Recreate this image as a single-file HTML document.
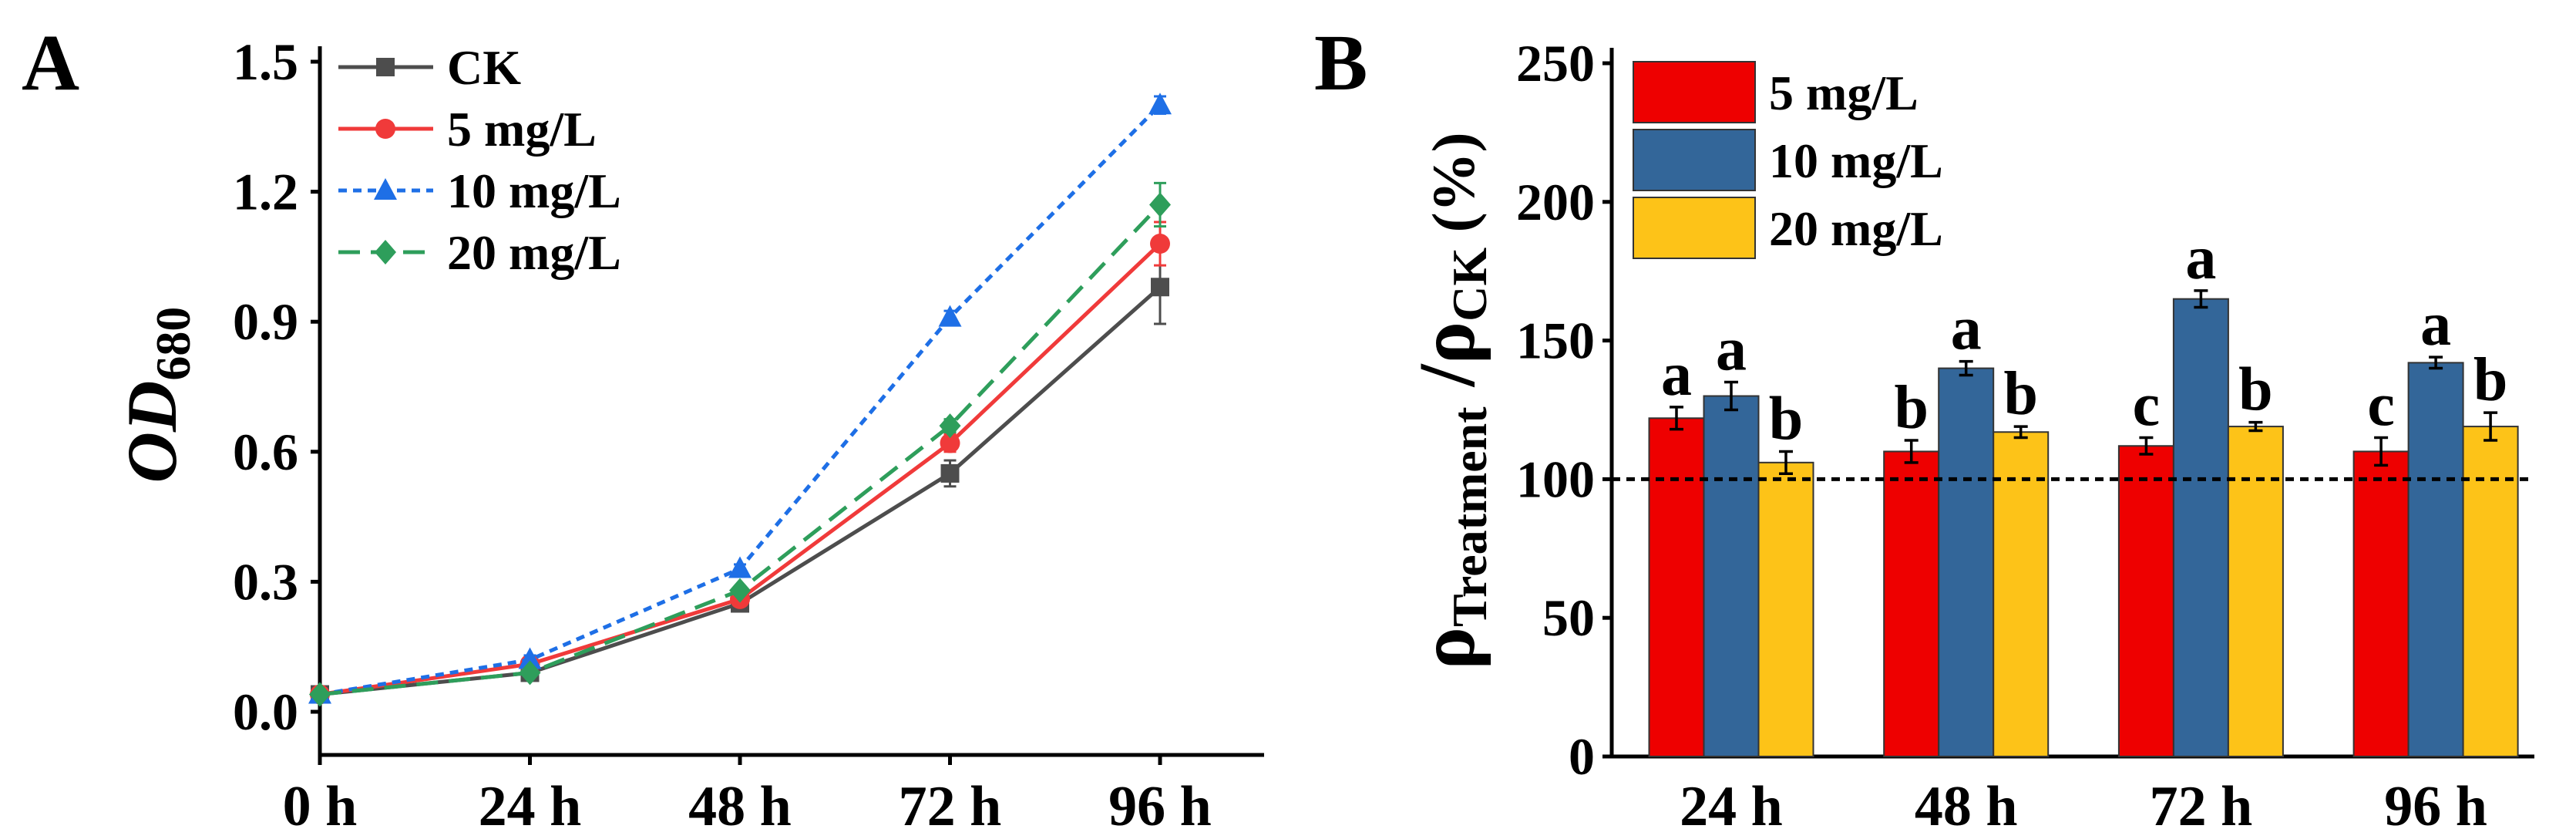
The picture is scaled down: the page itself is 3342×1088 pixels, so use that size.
<!DOCTYPE html>
<html><head><meta charset="utf-8"><style>
html,body{margin:0;padding:0;background:#fff;}
svg{display:block;font-family:"Liberation Serif",serif;font-weight:bold;}
</style></head><body>
<svg id="fig" width="3342" height="1088" viewBox="0 0 3342 1088" xmlns="http://www.w3.org/2000/svg">
<text x="28" y="116" font-size="104">A</text>
<text x="1705" y="116" font-size="104">B</text>
<g id="chartA"></g>
<g id="chartB"></g>
</svg>
<script>
const NS="http://www.w3.org/2000/svg";
// ---- Panel A data ----
const timeLabels=["0 h","24 h","48 h","72 h","96 h"];
const yTicksA=[0.0,0.3,0.6,0.9,1.2,1.5];
const ckValues=[0.04,0.09,0.25,0.55,0.98];
const ckErr=[0.005,0.01,0.01,0.03,0.085];
const mg5Values=[0.04,0.11,0.26,0.62,1.08];
const mg5Err=[0.005,0.01,0.01,0.02,0.05];
const mg10Values=[0.04,0.12,0.33,0.91,1.40];
const mg10Err=[0.005,0.01,0.01,0.015,0.02];
const mg20Values=[0.04,0.09,0.28,0.66,1.17];
const mg20Err=[0.005,0.01,0.01,0.015,0.05];
const seriesNamesA=["CK","5 mg/L","10 mg/L","20 mg/L"];
// ---- Panel B data ----
const groupsB=["24 h","48 h","72 h","96 h"];
const yTicksB=[0,50,100,150,200,250];
const b5Values=[122,110,112,110];
const b5Err=[4,4,3,5];
const b10Values=[130,140,165,142];
const b10Err=[5,2.5,3,2];
const b20Values=[106,117,119,119];
const b20Err=[4,2,1.5,5];
const b5Letters=["a","b","c","c"];
const b10Letters=["a","a","a","a"];
const b20Letters=["b","b","b","b"];
const seriesNamesB=["5 mg/L","10 mg/L","20 mg/L"];

function el(tag,attrs,parent,text){const e=document.createElementNS(NS,tag);for(const k in attrs)e.setAttribute(k,attrs[k]);if(text!==undefined)e.textContent=text;parent.appendChild(e);return e;}

// ===== Panel A =====
const gA=document.getElementById('chartA');
const xA=i=>415+i*272.5;
const yA=v=>923-(v/0.3)*168.6;
let ax=el('line',{x1:415,y1:60,x2:415,y2:979,stroke:'#000','stroke-width':5},gA);


ax=el('line',{x1:413,y1:979,x2:1640,y2:979,stroke:'#000','stroke-width':5},gA);


yTicksA.forEach(v=>{
  el('line',{x1:403,y1:yA(v),x2:415,y2:yA(v),stroke:'#000','stroke-width':5},gA);
  const t=el('text',{x:387,y:yA(v)+23,'font-size':68,'text-anchor':'end'},gA,v.toFixed(1));
  
  
});
timeLabels.forEach((l,i)=>{
  el('line',{x1:xA(i),y1:979,x2:xA(i),y2:992,stroke:'#000','stroke-width':5},gA);
  const t=el('text',{x:xA(i),y:1070,'font-size':74,'text-anchor':'middle'},gA,l);
  
  
});
const yt=el('text',{transform:'translate(228,512) rotate(-90)','font-size':92,'text-anchor':'middle','font-style':'italic'},gA);


el('tspan',{},yt,'OD');
el('tspan',{'font-size':64,'font-style':'normal',dy:18},yt,'680');

const seriesA=[
 {v:ckValues,e:ckErr,c:'#4d4d4d',d:'',m:'sq'},
 {v:mg5Values,e:mg5Err,c:'#f03a3a',d:'',m:'ci'},
 {v:mg10Values,e:mg10Err,c:'#1e6fe6',d:'11 8',m:'tr'},
 {v:mg20Values,e:mg20Err,c:'#2e9e5b',d:'28 14',m:'di'}];
function marker(type,x,y,c,parent){
  if(type==='sq')return el('rect',{x:x-12,y:y-12,width:24,height:24,fill:c},parent);
  if(type==='ci')return el('circle',{cx:x,cy:y,r:13,fill:c},parent);
  if(type==='tr')return el('polygon',{points:`${x},${y-16} ${x+15},${y+12} ${x-15},${y+12}`,fill:c},parent);
  return el('polygon',{points:`${x},${y-16} ${x+14},${y} ${x},${y+16} ${x-14},${y}`,fill:c},parent);
}
seriesA.forEach((s,si)=>{
  const g=el('g',{},gA);
  
  
  const pts=s.v.map((v,i)=>xA(i)+','+yA(v)).join(' ');
  const pl=el('polyline',{points:pts,fill:'none',stroke:s.c,'stroke-width':5,'stroke-dasharray':s.d},g);
  
  
  s.v.forEach((v,i)=>{
    const x=xA(i);
    el('line',{x1:x,y1:yA(v-s.e[i]),x2:x,y2:yA(v+s.e[i]),stroke:s.c,'stroke-width':3},g);
    el('line',{x1:x-8,y1:yA(v-s.e[i]),x2:x+8,y2:yA(v-s.e[i]),stroke:s.c,'stroke-width':3},g);
    el('line',{x1:x-8,y1:yA(v+s.e[i]),x2:x+8,y2:yA(v+s.e[i]),stroke:s.c,'stroke-width':3},g);
    const m=marker(s.m,x,yA(v),s.c,g);
    
    
  });
  const ly=87+si*80;
  const lg=el('g',{},gA);
  
  
  el('line',{x1:439,y1:ly,x2:562,y2:ly,stroke:s.c,'stroke-width':5,'stroke-dasharray':s.d},lg);
  marker(s.m,500,ly,s.c,lg);
  el('text',{x:580,y:ly+22,'font-size':64},lg,seriesNamesA[si]);
});

// ===== Panel B =====
const gB=document.getElementById('chartB');
const x0B=2091, yB=v=>981-v*(899/250);
const gx=i=>2246+i*304.7;
const bw=71;
ax=el('line',{x1:x0B,y1:62,x2:x0B,y2:981,stroke:'#000','stroke-width':5},gB);


ax=el('line',{x1:x0B-2,y1:981,x2:3288,y2:981,stroke:'#000','stroke-width':5},gB);


yTicksB.forEach(v=>{
  el('line',{x1:x0B-12,y1:yB(v),x2:x0B,y2:yB(v),stroke:'#000','stroke-width':5},gB);
  const t=el('text',{x:x0B-22,y:yB(v)+23,'font-size':68,'text-anchor':'end'},gB,String(v));
  
  
});
groupsB.forEach((l,i)=>{
  const t=el('text',{x:gx(i),y:1070,'font-size':74,'text-anchor':'middle'},gB,l);
  
  
});
const yt2=el('text',{transform:'translate(1912,520) rotate(-90)','font-size':104,'text-anchor':'middle'},gB);


el('tspan',{},yt2,'ρ');
el('tspan',{'font-size':64,dy:16},yt2,'Treatment');
el('tspan',{dy:-16},yt2,' /ρ');
el('tspan',{'font-size':64,dy:16},yt2,'CK');
el('tspan',{'font-size':78,dy:-16},yt2,' (%)');

const seriesB=[
 {v:b5Values,e:b5Err,L:b5Letters,c:'#ee0000'},
 {v:b10Values,e:b10Err,L:b10Letters,c:'#336699'},
 {v:b20Values,e:b20Err,L:b20Letters,c:'#fdc318'}];
seriesB.forEach((s,si)=>{
  s.v.forEach((v,i)=>{
    const cx=gx(i)+(si-1)*bw;
    const r=el('rect',{x:cx-bw/2,y:yB(v),width:bw,height:yB(0)-yB(v),fill:s.c,stroke:'#333','stroke-width':2},gB);
    
    
    const lo=yB(v-s.e[i]),hi=yB(v+s.e[i]);
    el('line',{x1:cx,y1:lo,x2:cx,y2:hi,stroke:'#000','stroke-width':3.5},gB);
    el('line',{x1:cx-9,y1:lo,x2:cx+9,y2:lo,stroke:'#000','stroke-width':3.5},gB);
    el('line',{x1:cx-9,y1:hi,x2:cx+9,y2:hi,stroke:'#000','stroke-width':3.5},gB);
    const t=el('text',{x:cx,y:hi-16,'font-size':80,'text-anchor':'middle'},gB,s.L[i]);
    
    
  });
  const ly=80+si*88;
  const lg=el('g',{},gB);
  
  
  el('rect',{x:2119,y:ly,width:158,height:79,fill:s.c,stroke:'#333','stroke-width':2},lg);
  el('text',{x:2295,y:ly+62,'font-size':64},lg,seriesNamesB[si]);
});
const ref=el('line',{x1:x0B,y1:yB(100),x2:3288,y2:yB(100),stroke:'#000','stroke-width':5,'stroke-dasharray':'11 8'},gB);


</script>
</body></html>
